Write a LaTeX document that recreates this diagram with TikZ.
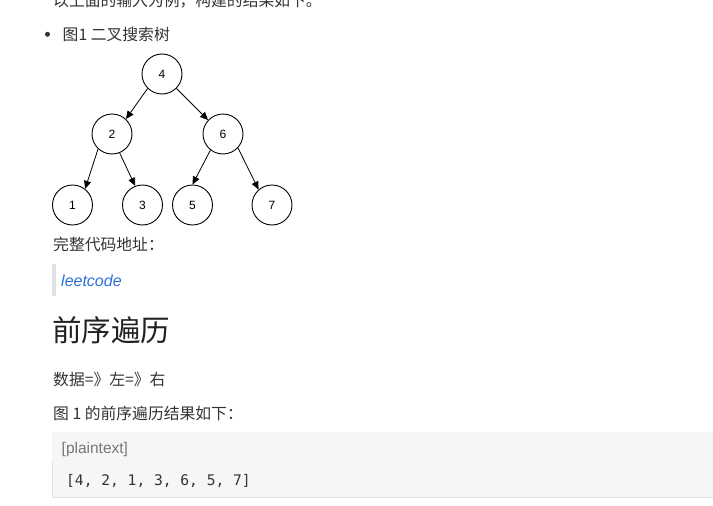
\documentclass[tikz,border=0pt]{standalone}
\usepackage{fontspec}
\setmainfont{Liberation Sans}
\newfontfamily\cjk{Noto Sans CJK SC}
\newfontfamily\monofam{DejaVu Sans Mono}
\usetikzlibrary{arrows.meta}
\definecolor{txt}{HTML}{333333}
\definecolor{head}{HTML}{222222}
\definecolor{linkblue}{HTML}{2D6FDB}
\definecolor{quotebar}{HTML}{DFE2E5}
\definecolor{codebg}{HTML}{F6F6F7}
\definecolor{codeborder}{HTML}{E3E3E5}
\definecolor{labelgray}{HTML}{777777}
\tikzset{
  body/.style={anchor=base west, inner sep=0pt, text=txt, font=\cjk\fontsize{15.8}{18}\selectfont},
  tnode/.style={circle, draw=black, line width=0.9pt, minimum size=40pt, inner sep=0pt, font=\fontsize{12}{14}\selectfont},
  tedge/.style={line width=0.8pt, -{Triangle[length=8pt,width=7pt]}},
}
\begin{document}
\begin{tikzpicture}[x=1pt,y=-1pt]
\useasboundingbox (0,0) rectangle (713,506);
\clip (0,0) rectangle (713,506);
\fill[white] (0,0) rectangle (713,506);

% top clipped line
\node[body] (intro) at (53,6.5) {以上面的输入为例，构建的结果如下。};

% bullet
\fill[txt] (47.5,34.3) circle (2.5pt);
\node[body] (fig) at (62.5,40.5) {图1 二叉搜索树};

% tree
\node[tnode] (n4) at (162,74) {4};
\node[tnode] (n2) at (112,134) {2};
\node[tnode] (n6) at (223,134) {6};
\node[tnode] (n1) at (72.5,205) {1};
\node[tnode] (n3) at (142.5,205) {3};
\node[tnode] (n5) at (192.5,205) {5};
\node[tnode] (n7) at (272,205) {7};
\draw[tedge] (n4.225) -- (n2.47);
\draw[tedge] (n4.315) -- (n6.137);
\draw[tedge] (n2.227) -- (n1.52);
\draw[tedge] (n2.292) -- (n3.111);
\draw[tedge] (n6.232) -- (n5.90);
\draw[tedge] (n6.317) -- (n7.131);

% code address
\node[body] (addr) at (53,250.7) {完整代码地址：};
\fill[quotebar] (52,264) rectangle (56,296);
\node[anchor=base west, inner sep=0pt, text=linkblue, font=\itshape\fontsize{16}{18}\selectfont] (link) at (61,286) {leetcode};

% heading
\node[anchor=base west, inner sep=0pt, text=head, font=\cjk\fontsize{29.5}{34}\selectfont] (h) at (52,341.8) {前序遍历};

\node[body] (order) at (53,385.7) {数据=》左=》右};
\node[body] (res) at (53,419.8) {图 1 的前序遍历结果如下：};

% code block
\fill[codebg] (52,432) rectangle (720,498);
\draw[codeborder, line width=0.8pt] (52.5,462) -- (52.5,497.5) -- (720,497.5);
\node[anchor=base west, inner sep=0pt, text=labelgray, font=\fontsize{15.5}{18}\selectfont] (lang) at (61.5,453) {[plaintext]};
\node[anchor=base west, inner sep=0pt, text=txt, font=\monofam\fontsize{14.6}{17}\selectfont] (code) at (66,485.5) {[4, 2, 1, 3, 6, 5, 7]};
\end{tikzpicture}
\end{document}
